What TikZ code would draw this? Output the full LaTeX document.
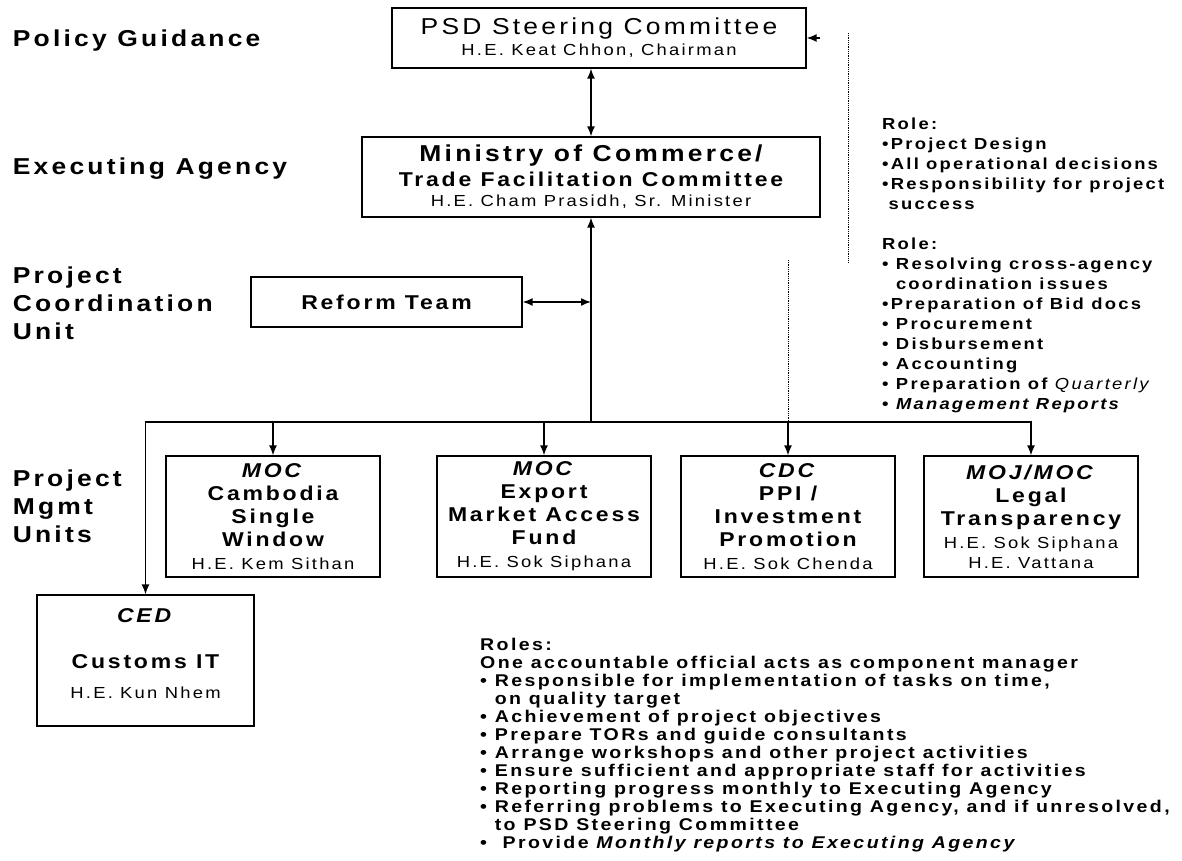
\documentclass[tikz,border=0pt]{standalone}
\usepackage{fontspec}
\setmainfont{Liberation Sans}[FakeStretch=1.15, LetterSpace=14]
\usetikzlibrary{arrows.meta}
\newcommand\he[1]{{\mdseries\fontsize{16}{23}\selectfont #1}}

\begin{document}
\begin{tikzpicture}[x=1pt, y=-1pt,
    box/.style={draw, line width=1.3pt, inner sep=0pt, align=center},
    unit/.style={box, minimum width=214pt, minimum height=121pt, font=\fontsize{20}{23}\selectfont\bfseries},
    level/.style={anchor=north west, inner sep=0pt, align=left, font=\fontsize{23}{28}\selectfont\bfseries},
    notes/.style={anchor=north west, inner sep=0pt, align=left},
    conn/.style={line width=1.5pt},
    arr/.style={conn, -{Latex[length=10pt, width=8pt]}},
    dbl/.style={conn, {Latex[length=10pt, width=8pt]}-{Latex[length=10pt, width=8pt]}},
    dot/.style={line width=1pt, dash pattern=on 1pt off 0.8pt}
]
\path[use as bounding box, fill=white] (0,0) rectangle (1182,861);

\node[level] (policy) at (12.6,30) {Policy Guidance};
\node[level] (exec) at (12.6,158) {Executing Agency};
\node[level] (pcu) at (12.6,267) {Project\\Coordination\\Unit};
\node[level] (pmu) at (12.6,470) {Project\\Mgmt\\Units};

\node[box, minimum width=414pt, minimum height=60pt, font=\fontsize{23}{21}\selectfont] (psd) at (599,38) {PSD Steering Committee\\{\fontsize{16}{21}\selectfont H.E. Keat Chhon, Chairman}};
\node[box, minimum width=458pt, minimum height=80pt, font=\fontsize{20}{20}\selectfont\bfseries] (moc) at (591,177) {{\fontsize{23}{20}\selectfont Ministry of Commerce/}\\[5pt]Trade Facilitation Committee\\{\mdseries\fontsize{16}{20}\selectfont H.E. Cham Prasidh, Sr. Minister}};
\node[box, minimum width=271pt, minimum height=50pt, font=\fontsize{20}{23}\selectfont\bfseries] (reform) at (386.5,302) {Reform Team};

\node[unit] (csw) at (273,516.5) {\textit{MOC}\\Cambodia\\Single\\Window\\\he{H.E. Kem Sithan}};
\node[unit] (emaf) at (544,516.5) {\textit{MOC}\\Export\\Market Access\\Fund\\\he{H.E. Sok Siphana}};
\node[unit] (cdc) at (788,516.5) {\textit{CDC}\\PPI /\\Investment\\Promotion\\\he{H.E. Sok Chenda}};
\node[unit] (moj) at (1031,516.5) {\textit{MOJ/MOC}\\Legal\\Transparency\\\he{H.E. Sok Siphana}\\[-3pt]\he{H.E. Vattana}};
\node[box, minimum width=217pt, minimum height=131pt, font=\fontsize{20}{23}\selectfont\bfseries] (ced) at (145.5,660.5) {\textit{CED}\\[23pt]Customs IT\\[7pt]\he{H.E. Kun Nhem}\rule[-13pt]{0pt}{0pt}};

\coordinate (bus) at (591,422);
\coordinate (dotA) at (848,33);
\coordinate (dotA2) at (848,262);
\coordinate (tipA) at (820,38);
\coordinate (dotB) at (788,260);

\draw[dbl] (moc.north) -- (moc.north |- psd.south);
\draw[arr] (bus) -- (moc.south);
\draw[dbl] (reform.east) -- (reform.east -| bus);
\draw[dbl] (ced.north) |- (moj.north |- bus) -- (moj.north);
\draw[arr] (csw.north |- bus) -- (csw.north);
\draw[arr] (emaf.north |- bus) -- (emaf.north);
\draw[arr] (cdc.north |- bus) -- (cdc.north);
\draw[dot] (dotB) -- (dotB |- bus);
\draw[dot] (dotA) -- (dotA2);
\draw[arr] (tipA) -- (psd.east);

\node[notes, font=\fontsize{16}{20}\selectfont\bfseries] (roleea) at (882,117.3) {Role:\\
•Project Design\\
•All operational decisions\\
•Responsibility for project\\
\hphantom{•}success\\[20pt]
Role:\\
• Resolving cross-agency\\
\hphantom{• }coordination issues\\
•Preparation of Bid docs\\
• Procurement\\
• Disbursement\\
• Accounting\\
• Preparation of {\mdseries\itshape Quarterly}\\
• \textit{Management Reports}};

\node[notes, font=\fontsize{17}{18}\selectfont\bfseries] (rolepmu) at (480,638) {Roles:\\
One accountable official acts as component manager\\
• Responsible for implementation of tasks on time,\\
\hphantom{• }on quality target\\
• Achievement of project objectives\\
• Prepare TORs and guide consultants\\
• Arrange workshops and other project activities\\
• Ensure sufficient and appropriate staff for activities\\
• Reporting progress monthly to Executing Agency\\
• Referring problems to Executing Agency, and if unresolved,\\
\hphantom{• }to PSD Steering Committee\\
•\ \ Provide \textit{Monthly reports to Executing Agency}};
\end{tikzpicture}
\end{document}
